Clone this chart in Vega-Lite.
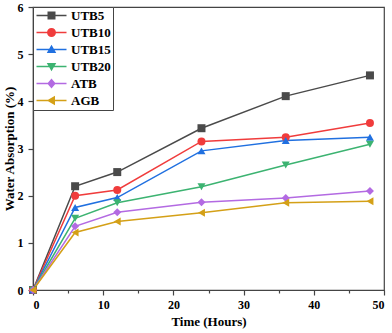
{
  "$schema": "https://vega.github.io/schema/vega-lite/v6.json",
  "width": 351,
  "height": 283,
  "autosize": "none",
  "padding": {"left": 33, "top": 7, "right": 8, "bottom": 43},
  "background": "white",
  "config": {
    "view": {"stroke": "#444", "strokeWidth": 1.2},
    "font": "Liberation Serif",
    "axis": {"labelFont": "Liberation Serif", "titleFont": "Liberation Serif", "labelFontWeight": "bold", "titleFontWeight": "bold", "labelColor": "#000", "titleColor": "#000", "domainColor": "#444", "tickColor": "#444", "domainWidth": 1.2, "tickWidth": 1.2, "grid": false},
    "legend": {"orient": "top-left", "offset": 0, "strokeColor": "#444", "fillColor": "white", "padding": 2, "labelFont": "Liberation Serif", "labelFontWeight": "bold", "labelFontSize": 13, "labelColor": "#000", "symbolSize": 100, "symbolOpacity": 1, "symbolStrokeWidth": 0, "labelOffset": 23, "rowPadding": 3}
  },
  "data": {"values": [
    {"t": 0, "v": 0, "s": "UTB5"}, {"t": 6, "v": 2.2, "s": "UTB5"}, {"t": 12, "v": 2.5, "s": "UTB5"}, {"t": 24, "v": 3.43, "s": "UTB5"}, {"t": 36, "v": 4.11, "s": "UTB5"}, {"t": 48, "v": 4.55, "s": "UTB5"},
    {"t": 0, "v": 0, "s": "UTB10"}, {"t": 6, "v": 2.0, "s": "UTB10"}, {"t": 12, "v": 2.12, "s": "UTB10"}, {"t": 24, "v": 3.15, "s": "UTB10"}, {"t": 36, "v": 3.24, "s": "UTB10"}, {"t": 48, "v": 3.54, "s": "UTB10"},
    {"t": 0, "v": 0, "s": "UTB15"}, {"t": 6, "v": 1.75, "s": "UTB15"}, {"t": 12, "v": 1.96, "s": "UTB15"}, {"t": 24, "v": 2.95, "s": "UTB15"}, {"t": 36, "v": 3.17, "s": "UTB15"}, {"t": 48, "v": 3.24, "s": "UTB15"},
    {"t": 0, "v": 0, "s": "UTB20"}, {"t": 6, "v": 1.52, "s": "UTB20"}, {"t": 12, "v": 1.85, "s": "UTB20"}, {"t": 24, "v": 2.19, "s": "UTB20"}, {"t": 36, "v": 2.65, "s": "UTB20"}, {"t": 48, "v": 3.09, "s": "UTB20"},
    {"t": 0, "v": 0, "s": "ATB"}, {"t": 6, "v": 1.35, "s": "ATB"}, {"t": 12, "v": 1.65, "s": "ATB"}, {"t": 24, "v": 1.86, "s": "ATB"}, {"t": 36, "v": 1.95, "s": "ATB"}, {"t": 48, "v": 2.1, "s": "ATB"},
    {"t": 0, "v": 0, "s": "AGB"}, {"t": 6, "v": 1.22, "s": "AGB"}, {"t": 12, "v": 1.45, "s": "AGB"}, {"t": 24, "v": 1.64, "s": "AGB"}, {"t": 36, "v": 1.85, "s": "AGB"}, {"t": 48, "v": 1.88, "s": "AGB"}
  ]},
  "encoding": {
    "x": {"field": "t", "type": "quantitative", "scale": {"domain": [0, 50], "nice": false}, "title": "Time (Hours)",
      "axis": {"values": [0, 5, 10, 15, 20, 25, 30, 35, 40, 45, 50], "labelExpr": "datum.value % 10 == 0 ? datum.label : ''", "labelFontSize": 12, "titleFontSize": 13, "tickSize": {"condition": {"test": "datum.value % 10 == 0", "value": 5}, "value": 3}, "labelPadding": 4, "titlePadding": 5}},
    "y": {"field": "v", "type": "quantitative", "scale": {"domain": [0, 6], "nice": false}, "title": "Water Absorption (%)",
      "axis": {"values": [0, 0.5, 1, 1.5, 2, 2.5, 3, 3.5, 4, 4.5, 5, 5.5, 6], "format": "d", "labelExpr": "datum.value % 1 == 0 ? datum.label : ''", "labelFontSize": 12, "titleFontSize": 13, "tickSize": {"condition": {"test": "datum.value % 1 == 0", "value": 5}, "value": 3}, "labelPadding": 5, "titlePadding": 1}},
    "color": {"field": "s", "type": "nominal", "title": null, "legend": null,
      "scale": {"domain": ["UTB5", "UTB10", "UTB15", "UTB20", "ATB", "AGB"], "range": ["#4a4a4a", "#f03c3c", "#2070e0", "#3cb371", "#b36ae2", "#d4a017"]}}
  },
  "layer": [
    {"mark": {"type": "line", "strokeWidth": 1.5}},
    {"mark": {"type": "point", "filled": true, "size": 64, "opacity": 1},
      "encoding": {"shape": {"field": "s", "type": "nominal", "title": null, "legend": null,
        "scale": {"domain": ["UTB5", "UTB10", "UTB15", "UTB20", "ATB", "AGB"], "range": ["square", "circle", "triangle-up", "triangle-down", "diamond", "triangle-left"]}}}},
    {"mark": {"type": "point", "filled": true, "size": 100, "opacity": 0},
      "encoding": {
        "color": {"field": "s", "type": "nominal", "title": null, "legend": {},
          "scale": {"domain": ["UTB5", "UTB10", "UTB15", "UTB20", "ATB", "AGB"], "range": ["#4a4a4a", "#f03c3c", "#2070e0", "#3cb371", "#b36ae2", "#d4a017"]}},
        "shape": {"field": "s", "type": "nominal", "title": null, "legend": {},
        "scale": {"domain": ["UTB5", "UTB10", "UTB15", "UTB20", "ATB", "AGB"], "range": [
          "M-1,-0.15H5V0.15H-1Z M1.2,-0.8H2.8V0.8H1.2Z",
          "M-1,-0.15H5V0.15H-1Z M1.1,0A0.9,0.9 0 1,1 2.9,0A0.9,0.9 0 1,1 1.1,0Z",
          "M-1,-0.15H5V0.15H-1Z M2,-0.95L2.95,0.7L1.05,0.7Z",
          "M-1,-0.15H5V0.15H-1Z M2,0.95L1.05,-0.7L2.95,-0.7Z",
          "M-1,-0.15H5V0.15H-1Z M2,-1L2.85,0L2,1L1.15,0Z",
          "M-1,-0.15H5V0.15H-1Z M1.05,0L2.7,-0.95L2.7,0.95Z"
        ]}}}}
  ],
  "resolve": {"scale": {"shape": "independent"}, "legend": {"color": "independent", "shape": "independent"}}
}
